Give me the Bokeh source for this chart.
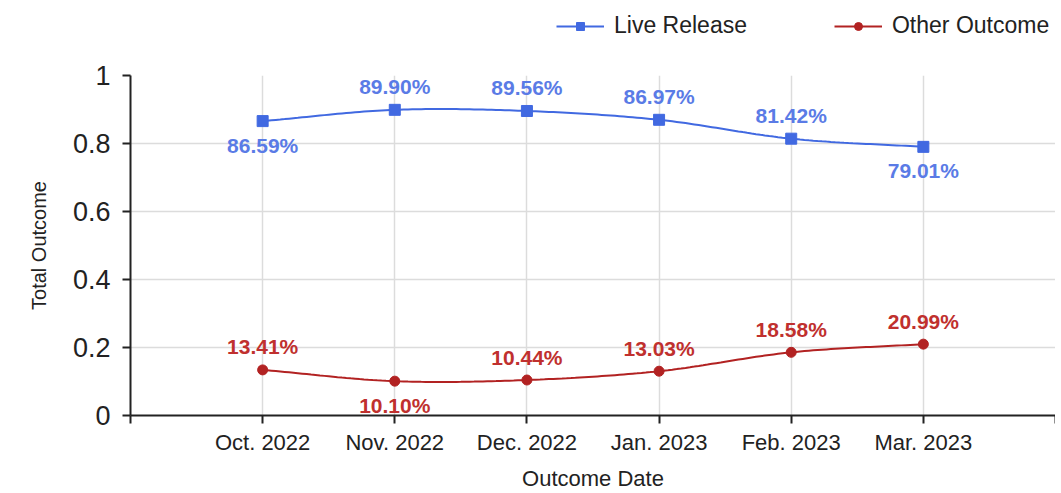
import numpy as np
from bokeh.plotting import figure
from bokeh.layouts import column
from bokeh.models import Range1d, FixedTicker, Legend, LegendItem, ColumnDataSource
from bokeh.core.properties import value
from bokeh.embed import file_html
from bokeh.resources import INLINE

# ---- data ----
categories = ["Oct. 2022", "Nov. 2022", "Dec. 2022", "Jan. 2023", "Feb. 2023", "Mar. 2023"]
live_release = [0.8659, 0.8990, 0.8956, 0.8697, 0.8142, 0.7901]
other_outcome = [0.1341, 0.1010, 0.1044, 0.1303, 0.1858, 0.2099]
y_ticks = [0, 0.2, 0.4, 0.6, 0.8, 1]
y_tick_labels = ["0", "0.2", "0.4", "0.6", "0.8", "1"]
series_names = ["Live Release", "Other Outcome"]

# label placement (style): screen px, positive = below the point
live_label_offsets = [24, -23, -23, -23, -23, 24]
other_label_offsets = [-23, 24, -23, -23, -23, -23]

BLUE = "#4169e1"
BLUE_TXT = "#5a7be6"
RED = "#b22222"
RED_TXT = "#c0302e"
FONT = "Liberation Sans"
W = 1055

xs = list(range(1, len(categories) + 1))


def smooth(x, y, n=30):
    """Catmull-Rom spline through the given points (for rendering only)."""
    x = np.asarray(x, float)
    y = np.asarray(y, float)
    px = np.concatenate([[2 * x[0] - x[1]], x, [2 * x[-1] - x[-2]]])
    py = np.concatenate([[2 * y[0] - y[1]], y, [2 * y[-1] - y[-2]]])
    ox, oy = [], []
    t = np.linspace(0, 1, n, endpoint=False)
    for i in range(1, len(px) - 2):
        for arr, out in ((px, ox), (py, oy)):
            p0, p1, p2, p3 = arr[i - 1], arr[i], arr[i + 1], arr[i + 2]
            out.extend(0.5 * ((2 * p1) + (-p0 + p2) * t + (2 * p0 - 5 * p1 + 4 * p2 - p3) * t ** 2
                              + (-p0 + 3 * p1 - 3 * p2 + p3) * t ** 3))
    ox.append(x[-1])
    oy.append(y[-1])
    return ox, oy


# ---------- legend strip (series drawn out of view, only the legend shows) ----------
top = figure(width=W, height=55, output_backend="svg", toolbar_location=None,
             x_range=Range1d(0, 7), y_range=Range1d(5, 6),
             min_border=0, x_axis_location=None, y_axis_location=None)
top.outline_line_color = None
top.grid.visible = False
dl = top.line(xs, live_release, line_color=BLUE, line_width=2)
ds = top.scatter(xs, live_release, marker="square", size=7, fill_color=BLUE, line_color=BLUE)
rl = top.line(xs, other_outcome, line_color=RED, line_width=2)
rs = top.scatter(xs, other_outcome, marker="circle", size=6, fill_color=RED, line_color=RED)
legend = Legend(items=[LegendItem(label=series_names[0], renderers=[dl, ds]),
                       LegendItem(label=series_names[1], renderers=[rl, rs])],
                orientation="horizontal", location=(426, 16),
                label_text_font=FONT, label_text_font_size="23px", label_text_color="#222222",
                glyph_width=48, glyph_height=20, label_standoff=10, spacing=87,
                padding=0, margin=0, border_line_color=None, background_fill_alpha=0)
top.add_layout(legend, "center")

# ---------- main chart ----------
p = figure(width=W, height=438, output_backend="svg", toolbar_location=None,
           x_range=Range1d(0, 7), y_range=Range1d(0, 1),
           min_border_top=20, min_border_left=130, min_border_right=0,
           min_border_bottom=76)
p.outline_line_color = None
p.background_fill_color = "white"

p.xgrid.ticker = FixedTicker(ticks=list(range(1, 8)))
p.ygrid.ticker = FixedTicker(ticks=y_ticks)
for g in (p.xgrid, p.ygrid):
    g.grid_line_color = "#dcdcdc"
    g.grid_line_width = 1.5

p.xaxis.ticker = FixedTicker(ticks=list(range(0, 8)))
overrides = {0: "", 7: ""}
for xv, c in zip(xs, categories):
    overrides[xv] = c
p.xaxis.major_label_overrides = overrides
p.xaxis.axis_label = "Outcome Date"

p.yaxis.ticker = FixedTicker(ticks=y_ticks)
p.yaxis.major_label_overrides = {t: l for t, l in zip(y_ticks, y_tick_labels)}
p.yaxis.axis_label = "Total Outcome"

for ax in (p.xaxis, p.yaxis):
    ax.axis_line_color = "#222222"
    ax.axis_line_width = 2
    ax.major_tick_line_color = "#222222"
    ax.major_tick_line_width = 2
    ax.major_tick_out = 8
    ax.major_tick_in = 0
    ax.minor_tick_line_color = None
    ax.major_label_text_font = FONT
    ax.major_label_text_color = "#222222"
    ax.axis_label_text_font = FONT
    ax.axis_label_text_font_style = "normal"
    ax.axis_label_text_color = "#222222"

p.xaxis.major_label_text_font_size = "22px"
p.xaxis.major_label_standoff = 6
p.xaxis.axis_label_text_font_size = "22px"
p.xaxis.axis_label_standoff = 8
p.yaxis.major_label_text_font_size = "27px"
p.yaxis.major_label_standoff = 12
p.yaxis.axis_label_text_font_size = "20px"
p.yaxis.axis_label_standoff = 20

lx, ly = smooth(xs, live_release)
ox, oy = smooth(xs, other_outcome)
p.line(lx, ly, line_color=BLUE, line_width=2)
p.scatter(xs, live_release, marker="square", size=11, fill_color=BLUE, line_color=BLUE)
p.line(ox, oy, line_color=RED, line_width=2)
p.scatter(xs, other_outcome, marker="circle", size=10, fill_color=RED, line_color=RED)

live_src = ColumnDataSource(dict(x=xs, y=live_release,
                                 t=["%.2f%%" % (v * 100) for v in live_release],
                                 off=live_label_offsets))
oth_src = ColumnDataSource(dict(x=xs, y=other_outcome,
                                t=["%.2f%%" % (v * 100) for v in other_outcome],
                                off=other_label_offsets))
for src, col in ((live_src, BLUE_TXT), (oth_src, RED_TXT)):
    p.text(x="x", y="y", text="t", y_offset="off", source=src, text_color=col,
           text_font=value(FONT), text_font_size="21px", text_font_style="bold",
           text_align="center", text_baseline="middle")

layout = column(top, p, spacing=0)
open("out.html", "w").write(file_html(layout, INLINE))
